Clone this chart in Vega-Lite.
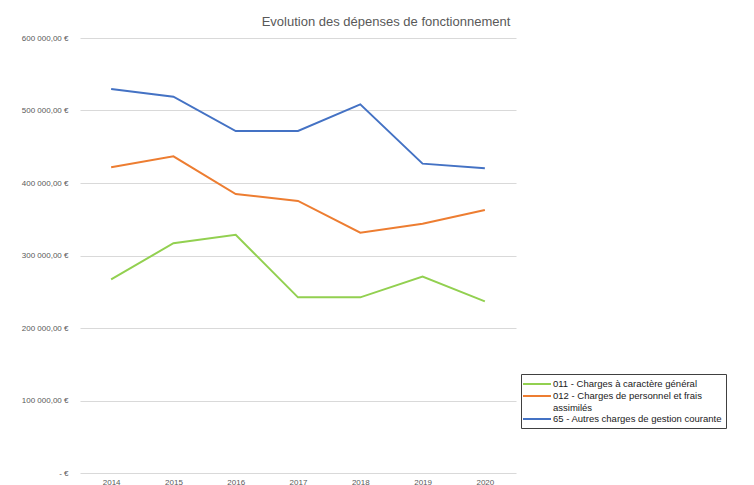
{
  "$schema": "https://vega.github.io/schema/vega-lite/v6.json",
  "width": 436,
  "height": 435,
  "autosize": "none",
  "padding": {"left": 80, "top": 38, "right": 238, "bottom": 12},
  "background": "white",
  "config": {
    "view": {"stroke": null},
    "font": "Liberation Sans",
    "locale": {"number": {"decimal": ",", "thousands": "\u00a0", "grouping": [3], "currency": ["", "\u00a0€"]}}
  },
  "title": {
    "text": "Evolution des dépenses de fonctionnement",
    "fontSize": 13,
    "fontWeight": "normal",
    "color": "#595959",
    "anchor": "middle",
    "dx": 88,
    "offset": 5
  },
  "data": {
    "values": [
      {"annee": "2014", "serie": "011 - Charges à caractère général", "montant": 267000},
      {"annee": "2015", "serie": "011 - Charges à caractère général", "montant": 317000},
      {"annee": "2016", "serie": "011 - Charges à caractère général", "montant": 328500},
      {"annee": "2017", "serie": "011 - Charges à caractère général", "montant": 242300},
      {"annee": "2018", "serie": "011 - Charges à caractère général", "montant": 242300},
      {"annee": "2019", "serie": "011 - Charges à caractère général", "montant": 270800},
      {"annee": "2020", "serie": "011 - Charges à caractère général", "montant": 236800},
      {"annee": "2014", "serie": "012 - Charges de personnel et frais assimilés", "montant": 421600},
      {"annee": "2015", "serie": "012 - Charges de personnel et frais assimilés", "montant": 436800},
      {"annee": "2016", "serie": "012 - Charges de personnel et frais assimilés", "montant": 384800},
      {"annee": "2017", "serie": "012 - Charges de personnel et frais assimilés", "montant": 375200},
      {"annee": "2018", "serie": "012 - Charges de personnel et frais assimilés", "montant": 331500},
      {"annee": "2019", "serie": "012 - Charges de personnel et frais assimilés", "montant": 343900},
      {"annee": "2020", "serie": "012 - Charges de personnel et frais assimilés", "montant": 362800},
      {"annee": "2014", "serie": "65 - Autres charges de gestion courante", "montant": 529700},
      {"annee": "2015", "serie": "65 - Autres charges de gestion courante", "montant": 519000},
      {"annee": "2016", "serie": "65 - Autres charges de gestion courante", "montant": 471700},
      {"annee": "2017", "serie": "65 - Autres charges de gestion courante", "montant": 471700},
      {"annee": "2018", "serie": "65 - Autres charges de gestion courante", "montant": 508500},
      {"annee": "2019", "serie": "65 - Autres charges de gestion courante", "montant": 426700},
      {"annee": "2020", "serie": "65 - Autres charges de gestion courante", "montant": 420200}
    ]
  },
  "mark": {"type": "line", "strokeWidth": 2},
  "encoding": {
    "x": {
      "field": "annee",
      "type": "ordinal",
      "scale": {"type": "point", "padding": 0.5},
      "axis": {
        "title": null,
        "labelAngle": 0,
        "labelFontSize": 8,
        "labelColor": "#595959",
        "ticks": false,
        "domain": false,
        "labelPadding": 5
      }
    },
    "y": {
      "field": "montant",
      "type": "quantitative",
      "scale": {"domain": [0, 600000], "nice": false},
      "axis": {
        "title": null,
        "values": [0, 100000, 200000, 300000, 400000, 500000, 600000],
        "format": "$,.2f",
        "labelExpr": "datum.value == 0 ? '-  €' : datum.label",
        "labelFontSize": 8,
        "labelColor": "#595959",
        "labelPadding": 12,
        "ticks": false,
        "domain": false,
        "gridColor": "#d9d9d9",
        "gridWidth": 1
      }
    },
    "color": {
      "field": "serie",
      "type": "nominal",
      "sort": ["011 - Charges à caractère général", "012 - Charges de personnel et frais assimilés", "65 - Autres charges de gestion courante"],
      "scale": {
        "domain": ["011 - Charges à caractère général", "012 - Charges de personnel et frais assimilés", "65 - Autres charges de gestion courante"],
        "range": ["#92D050", "#ED7D31", "#4472C4"]
      },
      "legend": {
        "title": null,
        "orient": "none",
        "legendX": 441,
        "legendY": 336,
        "symbolType": "M-2.8,0H2.8",
        "symbolSize": 100,
        "symbolStrokeWidth": 2,
        "symbolOffset": 6,
        "labelFontSize": 9.5,
        "labelColor": "#1a1a1a",
        "labelLimit": 300,
        "labelOffset": 10,
        "labelLineHeight": 9,
        "labelExpr": "datum.label == '012 - Charges de personnel et frais assimilés' ? ['012 - Charges de personnel et frais', 'assimilés'] : datum.label",
        "rowPadding": 1,
        "padding": 4,
        "strokeColor": "#404040",
        "fillColor": "white"
      }
    }
  }
}
